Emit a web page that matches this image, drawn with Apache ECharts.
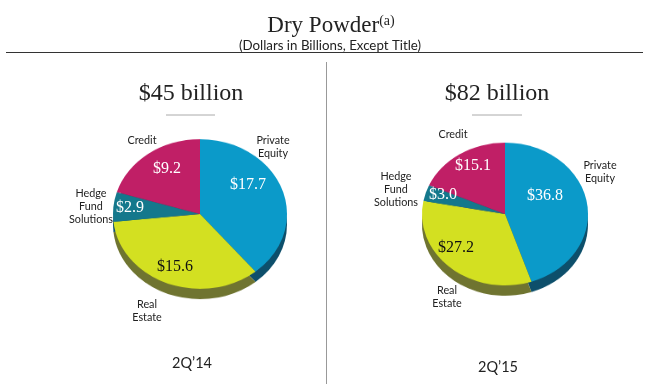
<!DOCTYPE html>
<html>
<head>
<meta charset="utf-8">
<style>
  html, body { margin: 0; padding: 0; background: #fff; }
  #pies, #main { position: absolute; left: 0; top: 0; width: 650px; height: 384px; }
  /* the source pies are tilted, so squash the round pies a bit */
  #pies { transform: scaleY(0.86); transform-origin: 0 214px; }
</style>
<script src="https://cdn.jsdelivr.net/npm/echarts@6/dist/echarts.min.js"></script>
</head>
<body>
<div id="pies"></div>
<div id="main"></div>
<script>
var categories = ['Private Equity', 'Real Estate', 'Hedge Fund Solutions', 'Credit'];
var values14 = [17.7, 15.6, 2.9, 9.2];
var values15 = [36.8, 27.2, 3.0, 15.1];
var totals = ['$45 billion', '$82 billion'];
var periods = ['2Q\u201914', '2Q\u201915'];
var topColors = ['#0b9ac9', '#d3e021', '#14788c', '#c01f66'];
var sideColors = ['#0d4f6b', '#6f7430', '#0d4f6b', '#6f2045'];

function pieLayer(vals, cx, cy, r, colors, z) {
    return {
        type: 'pie',
        silent: true,
        animation: false,
        startAngle: 90,
        clockwise: true,
        center: [cx, cy],
        radius: r,
        z: z,
        label: { show: false },
        labelLine: { show: false },
        data: vals.map(function (v, i) {
            return { value: v, name: categories[i], itemStyle: { color: colors[i] } };
        })
    };
}

var pies = echarts.init(document.getElementById('pies'));
pies.setOption({
    series: [
        pieLayer(values14, 200, 226, 87, sideColors, 1),
        pieLayer(values14, 200, 214, 87, topColors, 2),
        pieLayer(values15, 505, 226, 83, sideColors, 1),
        pieLayer(values15, 505, 214, 83, topColors, 2)
    ]
});

function sans(text, x, y, size, color) {
    return {
        type: 'text', x: x, y: y,
        style: {
            text: text, fill: color || '#222', align: 'center', verticalAlign: 'middle',
            font: (size || 10.8) + 'px Lato', lineHeight: 13
        }
    };
}
function serif(text, x, y, size, color) {
    return {
        type: 'text', x: x, y: y,
        style: {
            text: text, fill: color || '#222', align: 'center', verticalAlign: 'middle',
            font: size + 'px "Liberation Serif"'
        }
    };
}
function rule(x1, y1, x2, y2, color, w) {
    return {
        type: 'line',
        shape: { x1: x1, y1: y1, x2: x2, y2: y2 },
        style: { stroke: color, lineWidth: w }
    };
}

var main = echarts.init(document.getElementById('main'));
main.setOption({
    title: {
        text: 'Dry Powder{sup|(a)}',
        left: 326, top: 9, textAlign: 'center',
        textStyle: {
            fontFamily: 'Liberation Serif', fontSize: 23, fontWeight: 'normal', color: '#222',
            rich: { sup: { fontFamily: 'Liberation Serif', fontSize: 14, verticalAlign: 'top', color: '#222', padding: [0, 0, 6, 0] } }
        }
    },
    graphic: [
        rule(6, 52.5, 643, 52.5, '#333', 1.2),
        rule(326.5, 62, 326.5, 384, '#999', 1),
        rule(166, 115, 215, 115, '#aaa', 1),
        rule(472, 115, 522, 115, '#aaa', 1),
        sans('(Dollars in Billions, Except Title)', 330, 46, 13.3),
        serif(totals[0], 191, 94, 24),
        serif(totals[1], 497, 94, 24),
        serif('$' + values14[0].toFixed(1), 248, 185, 16, '#fff'),
        serif('$' + values14[1].toFixed(1), 175, 267, 16, '#111'),
        serif('$' + values14[2].toFixed(1), 130, 208, 16, '#fff'),
        serif('$' + values14[3].toFixed(1), 167, 169, 16, '#fff'),
        serif('$' + values15[0].toFixed(1), 545, 196, 16, '#fff'),
        serif('$' + values15[1].toFixed(1), 456, 248, 16, '#111'),
        serif('$' + values15[2].toFixed(1), 443, 195, 16, '#fff'),
        serif('$' + values15[3].toFixed(1), 473, 166, 16, '#fff'),
        sans('Private\nEquity', 273, 147),
        sans('Real\nEstate', 147, 311),
        sans('Hedge\nFund\nSolutions', 91, 207),
        sans('Credit', 142, 141),
        sans('Private\nEquity', 600, 172),
        sans('Real\nEstate', 447, 297),
        sans('Hedge\nFund\nSolutions', 396, 190),
        sans('Credit', 453, 135),
        sans(periods[0], 192, 363, 14.5),
        sans(periods[1], 498, 367, 14.5)
    ]
});
</script>
</body>
</html>
